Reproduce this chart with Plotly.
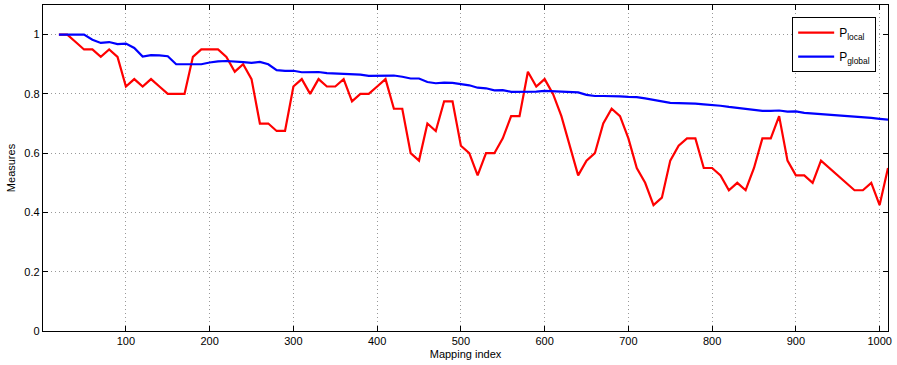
import plotly.graph_objects as go

mapping_index = list(range(20, 1011, 10))

p_local = [1.0, 1.0, 0.975, 0.95, 0.95, 0.925, 0.95, 0.925, 0.825, 0.85,
           0.825, 0.85, 0.825, 0.8, 0.8, 0.8, 0.925, 0.95, 0.95, 0.95,
           0.925, 0.875, 0.9, 0.85, 0.7, 0.7, 0.675, 0.675, 0.825, 0.85,
           0.8, 0.85, 0.825, 0.825, 0.85, 0.775, 0.8, 0.8, 0.825, 0.85,
           0.75, 0.75, 0.6, 0.575, 0.7, 0.675, 0.775, 0.775, 0.625, 0.6,
           0.525, 0.6, 0.6, 0.65, 0.725, 0.725, 0.875, 0.825, 0.85, 0.8,
           0.725, 0.625, 0.525, 0.575, 0.6, 0.7, 0.75, 0.725, 0.65, 0.55,
           0.5, 0.425, 0.45, 0.575, 0.625, 0.65, 0.65, 0.55, 0.55, 0.525,
           0.475, 0.5, 0.475, 0.55, 0.65, 0.65, 0.725, 0.575, 0.525, 0.525,
           0.5, 0.575, 0.55, 0.525, 0.5, 0.475, 0.475, 0.5, 0.425, 0.55]

p_global = [1.0, 1.0, 1.0, 1.0, 0.983, 0.972, 0.975, 0.968, 0.97, 0.955,
            0.926, 0.931, 0.93, 0.927, 0.9, 0.9, 0.9, 0.9, 0.906, 0.91,
            0.911, 0.91, 0.907, 0.905, 0.908, 0.9, 0.88, 0.878, 0.878, 0.873,
            0.873, 0.874, 0.87, 0.869, 0.869, 0.867, 0.865, 0.861, 0.862, 0.862,
            0.862, 0.858, 0.852, 0.852, 0.84, 0.836, 0.838, 0.837, 0.834, 0.829,
            0.821, 0.819, 0.812, 0.813, 0.807, 0.807, 0.807, 0.808, 0.81, 0.809,
            0.808, 0.806, 0.805, 0.797, 0.793, 0.793, 0.793, 0.792, 0.79, 0.789,
            0.785, 0.78, 0.773, 0.77, 0.769, 0.769, 0.767, 0.765, 0.763, 0.76,
            0.756, 0.753, 0.748, 0.745, 0.743, 0.743, 0.744, 0.74, 0.741, 0.736,
            0.734, 0.733, 0.731, 0.729, 0.727, 0.725, 0.722, 0.719, 0.716, 0.713]

x_ticks = [100, 200, 300, 400, 500, 600, 700, 800, 900, 1000]
y_ticks = [0, 0.2, 0.4, 0.6, 0.8, 1.0]
y_tick_labels = ["0", "0.2", "0.4", "0.6", "0.8", "1"]

fig = go.Figure()
fig.add_trace(go.Scatter(x=mapping_index, y=p_local, mode="lines",
                         name="P<sub>local</sub>", legendgroup="a",
                         line=dict(color="#ff0000", width=2.2)))
fig.add_trace(go.Scatter(x=mapping_index, y=p_global, mode="lines",
                         name="P<sub>global</sub>", legendgroup="b",
                         line=dict(color="#0000ff", width=2.2)))

axis_common = dict(showline=True, linecolor="black", linewidth=1.3, mirror="ticks",
                   ticks="inside", ticklen=5, tickcolor="black", tickwidth=1,
                   showgrid=True, gridcolor="#999999", griddash="1px,3px", gridwidth=1,
                   zeroline=False, tickfont=dict(size=11, color="black"))

fig.update_xaxes(range=[1, 1010], tickvals=x_ticks,
                 title=dict(text="Mapping index", font=dict(size=11, color="black"), standoff=3),
                 **axis_common)
fig.update_yaxes(range=[0, 1.1], tickvals=y_ticks, ticktext=y_tick_labels,
                 title=dict(text="Measures", font=dict(size=11, color="black"), standoff=6),
                 **axis_common)

fig.update_layout(
    width=897, height=365,
    margin=dict(l=43, r=9, t=5, b=34),
    paper_bgcolor="white", plot_bgcolor="white",
    font=dict(family="Liberation Sans, Arial, sans-serif", size=11, color="black"),
    legend=dict(x=0.986, y=0.963, xanchor="right", yanchor="top",
                bgcolor="white", bordercolor="black", borderwidth=1,
                font=dict(size=12), itemwidth=36, tracegroupgap=5,
                traceorder="grouped"),
    showlegend=True,
)

fig.write_html("out.html", config={"displayModeBar": False},
               post_script="document.body.style.margin='0';")
